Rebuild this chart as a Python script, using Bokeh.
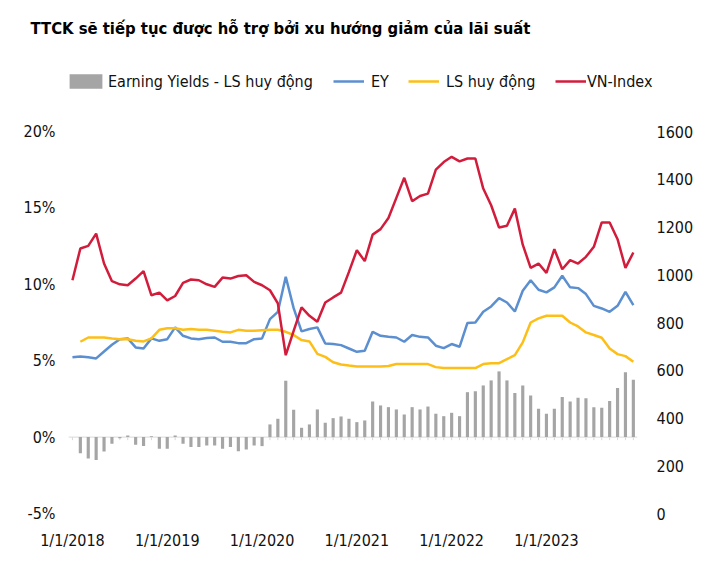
import numpy as np
from bokeh.plotting import figure
from bokeh.models import (Range1d, LinearAxis, FixedTicker, PrintfTickFormatter,
                          Title, Legend, LegendItem, ColumnDataSource)
from bokeh.embed import file_html
from bokeh.resources import INLINE

NAN = np.nan
FONT = "DejaVu Sans Condensed"

# monthly categories, Jan 2018 .. Dec 2023
months = [f"{m}/1/{y}" for y in range(2018, 2024) for m in range(1, 13)]
tick_idx = [0, 12, 24, 36, 48, 60]
tick_labels = ["1/1/2018", "1/1/2019", "1/1/2020", "1/1/2021", "1/1/2022", "1/1/2023"]

ey = [5.22, 5.28, 5.22, 5.15, 5.60, 6.04, 6.41, 6.46, 5.87, 5.80, 6.46, 6.30,
      6.41, 7.18, 6.63, 6.46, 6.41, 6.48, 6.52, 6.24, 6.24, 6.15, 6.15, 6.41,
      6.46, 7.72, 8.20, 10.49, 8.44, 6.92, 7.07, 7.18, 6.13, 6.09, 6.02, 5.80,
      5.58, 5.65, 6.89, 6.63, 6.56, 6.52, 6.24, 6.68, 6.56, 6.52, 5.98, 5.82,
      6.09, 5.91, 7.47, 7.50, 8.20, 8.55, 9.10, 8.81, 8.22, 9.58, 10.27, 9.64,
      9.47, 9.80, 10.56, 9.80, 9.75, 9.36, 8.59, 8.42, 8.20, 8.59, 9.51, 8.64]

ls_rate = [NAN, 6.24, 6.52, 6.52, 6.52, 6.46, 6.41, 6.41, 6.30, 6.26, 6.46, 7.02,
           7.13, 7.13, 7.02, 7.07, 7.02, 7.02, 6.96, 6.89, 6.85, 7.02, 6.96, 6.96,
           7.00, 7.02, 7.02, 6.89, 6.68, 6.35, 6.26, 5.45, 5.25, 4.90, 4.75, 4.68,
           4.62, 4.62, 4.62, 4.62, 4.65, 4.78, 4.78, 4.78, 4.78, 4.78, 4.58, 4.52,
           4.52, 4.52, 4.52, 4.52, 4.78, 4.84, 4.84, 5.10, 5.37, 6.20, 7.50, 7.77,
           7.94, 7.94, 7.94, 7.50, 7.24, 6.85, 6.68, 6.50, 5.80, 5.43, 5.30, 4.93]

spread = [NAN, -1.05, -1.40, -1.50, -0.94, -0.44, -0.07, 0.10, -0.50, -0.59, 0.05, -0.76,
          -0.76, 0.10, -0.44, -0.65, -0.65, -0.55, -0.55, -0.76, -0.65, -0.92, -0.81, -0.55,
          -0.59, 0.83, 1.20, 3.69, 1.79, 0.61, 0.83, 1.81, 0.94, 1.24, 1.35, 1.20,
          0.98, 1.09, 2.33, 2.07, 1.96, 1.81, 1.48, 1.96, 1.81, 2.00, 1.53, 1.37,
          1.59, 1.37, 2.94, 3.00, 3.38, 3.71, 4.30, 3.71, 2.88, 3.38, 2.73, 1.85,
          1.53, 1.85, 2.62, 2.33, 2.57, 2.55, 1.96, 1.92, 2.36, 3.21, 4.25, 3.75]

vnindex = [977, 1110, 1121, 1172, 1047, 973, 960, 956, 984, 1015, 914, 925,
           893, 911, 966, 980, 977, 960, 949, 988, 984, 995, 998, 970,
           956, 935, 880, 663, 765, 863, 828, 803, 884, 905, 925, 1012,
           1103, 1057, 1168, 1191, 1238, 1322, 1406, 1308, 1330, 1340, 1440, 1472,
           1494, 1475, 1487, 1487, 1361, 1291, 1198, 1205, 1277, 1126, 1029, 1047,
           1008, 1107, 1023, 1061, 1047, 1075, 1117, 1219, 1219, 1149, 1029, 1093]

left_ticks = [-5, 0, 5, 10, 15, 20]
right_ticks = [0, 200, 400, 600, 800, 1000, 1200, 1400, 1600]

TITLE = "TTCK sẽ tiếp tục được hỗ trợ bởi xu hướng giảm của lãi suất"
series_names = ["Earning Yields - LS huy động", "EY", "LS huy động", "VN-Index"]

C_BAR = "#a5a5a5"
C_EY = "#5b8fd0"
C_LS = "#fdbf17"
C_VN = "#d21c3c"
C_TXT = "#111111"
LW = 2.5

idx = list(range(len(months)))
src = ColumnDataSource(dict(x=idx, month=months, ey=ey, ls=ls_rate,
                            spread=spread, vn=vnindex))

# layout geometry (pixels)
FRAME_H = 460          # frame spans from below the title down to the -5% line
PX_PER_PCT = 15.28     # 5% == 76.4 px in the reference
PX_PER_PT = 0.23875    # 200 pts == 47.75 px
PX_PER_MONTH = 7.9
FRAME_W = 587

y_lo, vn_lo = left_ticks[0], right_ticks[0]
y_hi = y_lo + FRAME_H / PX_PER_PCT
vn_hi = vn_lo + FRAME_H / PX_PER_PT
x_lo = idx[0] - 0.5
x_hi = x_lo + FRAME_W / PX_PER_MONTH

p = figure(frame_width=FRAME_W, frame_height=FRAME_H,
           min_border_left=68, min_border_right=71,
           min_border_top=0, min_border_bottom=52,
           x_range=Range1d(x_lo, x_hi), y_range=Range1d(y_lo, y_hi),
           output_backend="svg", toolbar_location=None)
p.extra_y_ranges = {"vn": Range1d(vn_lo, vn_hi)}
p.outline_line_color = None
p.xgrid.visible = False
p.ygrid.visible = False

xa = p.xaxis[0]
xa.ticker = FixedTicker(ticks=tick_idx)
xa.major_label_overrides = {i: t for i, t in zip(tick_idx, tick_labels)}
xa.major_label_standoff = 17

ya = p.yaxis[0]
ya.ticker = FixedTicker(ticks=left_ticks)
ya.formatter = PrintfTickFormatter(format="%d%%")
ya.major_label_standoff = 13

ra = LinearAxis(y_range_name="vn", ticker=FixedTicker(ticks=right_ticks))
ra.major_label_standoff = 1
p.add_layout(ra, "right")

for ax in (xa, ya, ra):
    ax.axis_line_color = None
    ax.major_tick_line_color = None
    ax.minor_tick_line_color = None
    ax.major_tick_out = 0
    ax.major_tick_in = 0
    ax.major_label_text_font = FONT
    ax.major_label_text_font_size = "16px"
    ax.major_label_text_color = C_TXT

# category axis line at 0% with small tick marks
p.segment(x0=[idx[0] - 0.5], x1=[idx[-1] + 0.5], y0=[0], y1=[0],
          line_color="#d9d9d9", line_width=1)
p.segment(x0="x", x1="x", y0=0, y1=-0.2, source=src, line_color="#d9d9d9", line_width=1)

r_bar = p.vbar(x="x", top="spread", bottom=0, width=0.4, source=src,
               fill_color=C_BAR, line_color=None)
r_ey = p.line(x="x", y="ey", source=src, line_color=C_EY, line_width=LW)
r_ls = p.line(x="x", y="ls", source=src, line_color=C_LS, line_width=LW)
r_vn = p.line(x="x", y="vn", source=src, line_color=C_VN, line_width=LW, y_range_name="vn")

def add_legend(renderer, label, vx, gw, gh, standoff):
    leg = Legend(items=[LegendItem(label=label, renderers=[renderer])],
                 location=(vx, 422), orientation="horizontal",
                 padding=0, margin=0, spacing=0,
                 border_line_color=None, background_fill_alpha=0,
                 glyph_width=gw, glyph_height=gh, label_standoff=standoff,
                 label_height=20, label_text_font=FONT,
                 label_text_font_size="16px", label_text_color=C_TXT)
    p.add_layout(leg, "center")

add_legend(r_bar, series_names[0], -3, 41, 18, 2)
add_legend(r_ey, series_names[1], 265, 31, 20, 7)
add_legend(r_ls, series_names[2], 340, 31, 20, 7)
add_legend(r_vn, series_names[3], 487, 31, 20, 1)

title = Title(text=TITLE, text_font=FONT, text_font_size="16.5px", text_font_style="bold",
              text_color="#000000", align="left", offset=-47, padding=9, standoff=14)
p.add_layout(title, "above")

open("out.html", "w").write(file_html(p, INLINE))
